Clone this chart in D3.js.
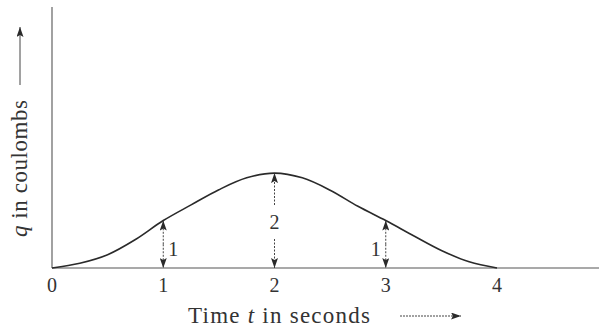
<!DOCTYPE html>
<html>
<head>
<meta charset="utf-8">
<script src="https://cdn.jsdelivr.net/npm/d3@7/dist/d3.min.js"></script>
<style>
  html, body { margin: 0; padding: 0; background: #fff; }
  svg { display: block; }
  text { font-family: "Liberation Serif", "DejaVu Serif", serif; fill: #333; }
</style>
</head>
<body>
<svg id="chart" width="599" height="328"></svg>
<script>
// Charge q (coulombs) sampled over time t (seconds)
const times   = [0, 0.25, 0.5, 0.75, 1, 1.25, 1.5, 1.75, 2, 2.25, 2.5, 2.75, 3, 3.25, 3.5, 3.75, 4];
const charges = [0, 0.1, 0.28, 0.6, 1, 1.33, 1.65, 1.9, 2, 1.9, 1.64, 1.3, 1, 0.68, 0.37, 0.13, 0];

// Ticks on the time axis
const tickValues = [0, 1, 2, 3, 4];
const tickLabels = ["0", "1", "2", "3", "4"];

// Marked charge values (double arrows from the axis up to the curve)
const markTimes  = [1, 2, 3];
const markValues = [1, 2, 1];
const markLabels = ["1", "2", "1"];

const svg = d3.select("#chart");
const ink = "#2a2a2a";

const x = d3.scaleLinear().domain([0, 4]).range([52, 497]);
const y = d3.scaleLinear().domain([0, 5.5]).range([268, 7]);

// Arrowhead marker
const defs = svg.append("defs");
defs.append("marker")
  .attr("id", "head")
  .attr("viewBox", "0 0 10 7")
  .attr("refX", 10).attr("refY", 3.5)
  .attr("markerWidth", 10).attr("markerHeight", 7)
  .attr("markerUnits", "userSpaceOnUse")
  .attr("orient", "auto")
  .append("path")
  .attr("d", "M0,0 L10,3.5 L0,7 L2,3.5 Z")
  .attr("fill", ink);

// Axes
svg.append("line")
  .attr("x1", x(0)).attr("x2", 599)
  .attr("y1", y(0)).attr("y2", y(0))
  .attr("stroke", "#555").attr("stroke-width", 1.1);
svg.append("line")
  .attr("x1", x(0)).attr("x2", x(0))
  .attr("y1", y(0)).attr("y2", 7)
  .attr("stroke", "#555").attr("stroke-width", 1.1);

// Tick labels along time axis
svg.selectAll("text.tick")
  .data(tickValues)
  .enter().append("text")
  .attr("class", "tick")
  .attr("x", d => x(d))
  .attr("y", 292)
  .attr("text-anchor", "middle")
  .attr("font-size", 20)
  .text((d, i) => tickLabels[i]);

// Curve q(t)
const line = d3.line()
  .x((d, i) => x(times[i]))
  .y(d => y(d))
  .curve(d3.curveCatmullRom.alpha(0.5));
svg.append("path")
  .datum(charges)
  .attr("d", line)
  .attr("fill", "none")
  .attr("stroke", ink)
  .attr("stroke-width", 1.6);

// Double arrows marking values
function arrow(g, xx, y1, y2) {
  g.append("line")
    .attr("x1", xx).attr("x2", xx)
    .attr("y1", y1).attr("y2", y2)
    .attr("stroke", "#444").attr("stroke-width", 1)
    .attr("stroke-dasharray", "2,1.5")
    .attr("marker-end", "url(#head)");
}
markTimes.forEach((t, i) => {
  const xx = x(t);
  const top = y(markValues[i]);
  const bot = y(0);
  const g = svg.append("g");
  if (i === 1) {
    // label sits in a gap on the arrow
    const ly = 222;
    arrow(g, xx, ly - 17, top);
    arrow(g, xx, ly + 17, bot);
    g.append("text")
      .attr("x", xx).attr("y", ly + 7)
      .attr("text-anchor", "middle")
      .attr("font-size", 20)
      .text(markLabels[i]);
  } else {
    const mid = (top + bot) / 2;
    arrow(g, xx, mid, top);
    arrow(g, xx, mid, bot);
    g.append("text")
      .attr("x", i === 0 ? xx + 5 : xx - 5)
      .attr("y", 256)
      .attr("text-anchor", i === 0 ? "start" : "end")
      .attr("font-size", 20)
      .text(markLabels[i]);
  }
});

// Time axis title with arrow
const xt = svg.append("text")
  .attr("x", 188).attr("y", 323)
  .attr("font-size", 23)
  .attr("textLength", 182)
  .attr("lengthAdjust", "spacing");
xt.append("tspan").text("Time ");
xt.append("tspan").attr("font-style", "italic").text("t");
xt.append("tspan").text(" in seconds");
svg.append("line")
  .attr("x1", 400).attr("x2", 461)
  .attr("y1", 316).attr("y2", 316)
  .attr("stroke", "#444").attr("stroke-width", 1)
  .attr("stroke-dasharray", "2,1")
  .attr("marker-end", "url(#head)");

// Charge axis title with arrow
const yt = svg.append("text")
  .attr("transform", "translate(27,237) rotate(-90)")
  .attr("font-size", 23)
  .attr("textLength", 137)
  .attr("lengthAdjust", "spacing");
yt.append("tspan").attr("font-style", "italic").text("q");
yt.append("tspan").text(" in coulombs");
svg.append("line")
  .attr("x1", 20).attr("x2", 20)
  .attr("y1", 85).attr("y2", 27)
  .attr("stroke", "#444").attr("stroke-width", 1)
  .attr("marker-end", "url(#head)");
</script>
</body>
</html>
